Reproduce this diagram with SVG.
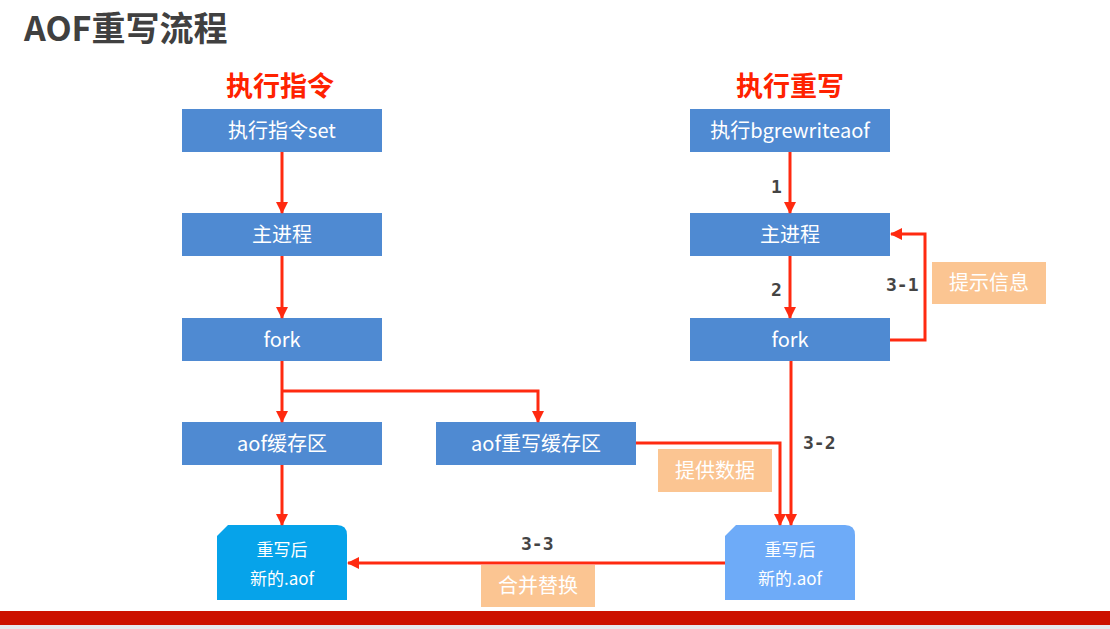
<svg xmlns="http://www.w3.org/2000/svg" width="1110" height="629" viewBox="0 0 1110 629">
<defs>
<marker id="ah" viewBox="0 0 12 12" refX="11" refY="6" markerWidth="12" markerHeight="12" markerUnits="userSpaceOnUse" orient="auto">
<path d="M0,0 L12,6 L0,12 Z" fill="#ff2a10"/>
</marker>
<style>
.box{fill:#4f8ad2}
.bt{font-family:"Noto Sans CJK SC","Noto Sans",sans-serif;font-size:20px;fill:#ffffff;text-anchor:middle}
.ft{font-family:"Noto Sans CJK SC","Noto Sans",sans-serif;font-size:17px;fill:#ffffff;text-anchor:middle}
.hd{font-family:"Noto Sans CJK SC",sans-serif;font-size:27px;font-weight:bold;fill:#ff2200;text-anchor:middle}
.ln{fill:none;stroke:#ff2a10;stroke-width:3}
.num{font-family:"DejaVu Sans Mono","Liberation Mono",monospace;font-size:18px;font-weight:bold;fill:#444444}
.note{fill:#fbc592}
.nt{font-family:"Noto Sans CJK SC",sans-serif;font-size:20px;fill:#ffffff;text-anchor:middle}
</style>
</defs>
<rect width="1110" height="629" fill="#ffffff"/>
<text x="24" y="41" font-family="Noto Sans CJK SC,sans-serif" font-size="34" font-weight="bold" fill="#404040">AOF重写流程</text>
<rect x="0" y="611" width="1110" height="14" fill="#cc1100"/>
<rect x="0" y="625" width="1110" height="4" fill="#e6e8ee"/>

<text class="hd" x="280" y="96">执行指令</text>
<text class="hd" x="790" y="96">执行重写</text>

<g id="set"><rect class="box" x="182" y="109" width="200" height="43"/><text class="bt" x="282" y="138">执行指令set</text></g>
<g id="main-l"><rect class="box" x="182" y="213" width="200" height="43"/><text class="bt" x="282" y="242">主进程</text></g>
<g id="fork-l"><rect class="box" x="182" y="318" width="200" height="43"/><text class="bt" x="282" y="347">fork</text></g>
<g id="aofbuf"><rect class="box" x="182" y="422" width="200" height="43"/><text class="bt" x="282" y="451">aof缓存区</text></g>
<g id="aofrwbuf"><rect class="box" x="436" y="422" width="200" height="43"/><text class="bt" x="536" y="451">aof重写缓存区</text></g>
<g id="bgrw"><rect class="box" x="690" y="109" width="200" height="43"/><text class="bt" x="790" y="138">执行bgrewriteaof</text></g>
<g id="main-r"><rect class="box" x="690" y="213" width="200" height="43"/><text class="bt" x="790" y="242">主进程</text></g>
<g id="fork-r"><rect class="box" x="690" y="318" width="200" height="43"/><text class="bt" x="790" y="347">fork</text></g>

<g id="newaof-l"><path d="M228,525 L337,525 Q347,525 347,535 L347,600 L217,600 L217,536 Z" fill="#06a3ea"/><text class="ft" x="282" y="556">重写后</text><text class="ft" x="282" y="585">新的.aof</text></g>
<g id="newaof-r"><path d="M736,525 L845,525 Q855,525 855,535 L855,600 L725,600 L725,536 Z" fill="#6eabf8"/><text class="ft" x="790" y="556">重写后</text><text class="ft" x="790" y="585">新的.aof</text></g>

<g id="notes">
<rect class="note" x="932" y="262" width="114" height="42"/><text class="nt" x="989" y="290">提示信息</text>
<rect class="note" x="658" y="449" width="114" height="43"/><text class="nt" x="715" y="478">提供数据</text>
<rect class="note" x="481" y="565" width="114" height="42"/><text class="nt" x="538" y="593">合并替换</text>
</g>

<g id="connectors">
<line class="ln" x1="282" y1="152" x2="282" y2="213" marker-end="url(#ah)"/>
<line class="ln" x1="282" y1="256" x2="282" y2="318" marker-end="url(#ah)"/>
<line class="ln" x1="282" y1="361" x2="282" y2="422" marker-end="url(#ah)"/>
<polyline class="ln" points="282,391 538,391 538,422" marker-end="url(#ah)"/>
<line class="ln" x1="282" y1="465" x2="282" y2="525" marker-end="url(#ah)"/>
<line class="ln" x1="790" y1="152" x2="790" y2="213" marker-end="url(#ah)"/>
<line class="ln" x1="790" y1="256" x2="790" y2="318" marker-end="url(#ah)"/>
<polyline class="ln" points="890,340 925,340 925,234 891,234" marker-end="url(#ah)"/>
<line class="ln" x1="791" y1="361" x2="791" y2="525" marker-end="url(#ah)"/>
<polyline class="ln" points="636,443 780,443 780,525" marker-end="url(#ah)"/>
<line class="ln" x1="725" y1="563" x2="348" y2="563" marker-end="url(#ah)"/>
</g>

<g id="labels">
<text class="num" x="771" y="193">1</text>
<text class="num" x="771" y="296">2</text>
<text class="num" x="886" y="291">3-1</text>
<text class="num" x="803" y="449">3-2</text>
<text class="num" x="521" y="550">3-3</text>
</g>
</svg>
